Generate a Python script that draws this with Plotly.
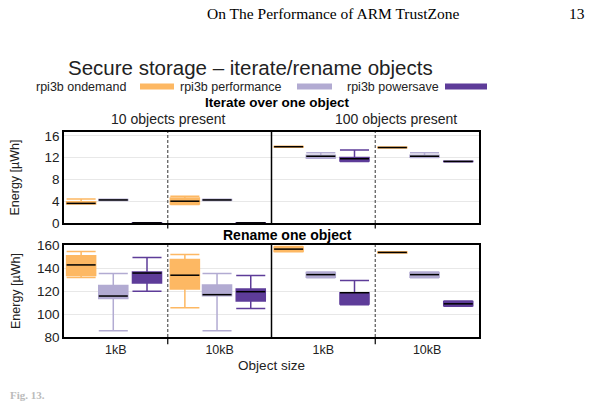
import plotly.graph_objects as go

# ---------------- data ----------------
group_labels = ["1kB", "10kB", "1kB", "10kB"]
series_names = ["rpi3b ondemand", "rpi3b performance", "rpi3b powersave"]

# Iterate over one object (energy, µWh)
it_lo = {
    "rpi3b ondemand":    [3.5, 3.4, 13.9, 13.75],
    "rpi3b performance": [4.15, 4.15, 11.9, 12.0],
    "rpi3b powersave":   [0.02, 0.02, 11.3, 11.25],
}
it_q1 = {
    "rpi3b ondemand":    [3.5, 3.5, 13.95, 13.8],
    "rpi3b performance": [4.18, 4.18, 11.95, 12.05],
    "rpi3b powersave":   [0.02, 0.02, 11.4, 11.27],
}
it_med = {
    "rpi3b ondemand":    [3.6, 4.0, 14.0, 13.85],
    "rpi3b performance": [4.23, 4.23, 12.25, 12.25],
    "rpi3b powersave":   [0.03, 0.03, 11.8, 11.3],
}
it_q3 = {
    "rpi3b ondemand":    [3.9, 4.6, 14.05, 13.9],
    "rpi3b performance": [4.3, 4.3, 12.45, 12.45],
    "rpi3b powersave":   [0.03, 0.03, 12.0, 11.33],
}
it_hi = {
    "rpi3b ondemand":    [4.4, 4.9, 14.1, 13.95],
    "rpi3b performance": [4.35, 4.35, 12.9, 12.9],
    "rpi3b powersave":   [0.04, 0.04, 13.4, 11.35],
}

# Rename one object (energy, µWh)
rn_lo = {
    "rpi3b ondemand":    [132, 105.5, 154.5, 153.3],
    "rpi3b performance": [85.5, 85.5, 131.8, 131.8],
    "rpi3b powersave":   [120, 105, 108.2, 106.8],
}
rn_q1 = {
    "rpi3b ondemand":    [133.8, 122, 154.8, 153.5],
    "rpi3b performance": [113.7, 116, 132.3, 132.3],
    "rpi3b powersave":   [127.1, 111.4, 108.8, 107.3],
}
rn_med = {
    "rpi3b ondemand":    [143, 134, 156.8, 153.9],
    "rpi3b performance": [115.8, 117, 134.5, 134.5],
    "rpi3b powersave":   [135.9, 119.6, 118.7, 109],
}
rn_q3 = {
    "rpi3b ondemand":    [151, 147.8, 158.6, 154.2],
    "rpi3b performance": [125, 125.4, 136.3, 136.3],
    "rpi3b powersave":   [136.8, 122, 118.7, 111],
}
rn_hi = {
    "rpi3b ondemand":    [154.8, 152, 159.1, 154.4],
    "rpi3b performance": [135.5, 135.5, 136.8, 136.8],
    "rpi3b powersave":   [149.5, 133.8, 129.4, 111.4],
}

# ---------------- style ----------------
colors = {"rpi3b ondemand": "#fdb863", "rpi3b performance": "#b2abd2", "rpi3b powersave": "#5e3c99"}
offsets = {"rpi3b ondemand": -0.335, "rpi3b performance": -0.025, "rpi3b powersave": 0.30}
BOXW = 0.28
FONT = "Liberation Sans"

W, H = 601, 404
L, R, T, B = 64, 479, 132, 337  # plot area in px


def px(x):
    return (x - L) / (R - L)


def py(y):
    return (B - y) / (B - T)


fig = go.Figure()

for panel, (lo, q1, med, q3, hi, xa, ya) in enumerate([
    (it_lo, it_q1, it_med, it_q3, it_hi, "x", "y"),
    (rn_lo, rn_q1, rn_med, rn_q3, rn_hi, "x2", "y2"),
]):
    for s in series_names:
        xs = [g + offsets[s] for g in range(len(group_labels))]
        fig.add_trace(go.Box(
            x=xs, q1=q1[s], median=med[s], q3=q3[s],
            lowerfence=lo[s], upperfence=hi[s],
            width=BOXW, whiskerwidth=1,
            fillcolor=colors[s], line=dict(color=colors[s], width=1.5),
            boxpoints=False, showlegend=False, name=s,
            xaxis=xa, yaxis=ya, hoverinfo="skip",
        ))
        mx, my = [], []
        for x0, m in zip(xs, med[s]):
            mx += [x0 - BOXW / 2, x0 + BOXW / 2, None]
            my += [m, m, None]
        fig.add_trace(go.Scatter(
            x=mx, y=my, mode="lines", line=dict(color="black", width=1.5),
            showlegend=False, xaxis=xa, yaxis=ya, hoverinfo="skip",
        ))

top_dom = [py(223), 1.0]
bot_dom = [0.0, py(245)]

axis_common = dict(showline=True, linecolor="black", linewidth=1.5, mirror=True,
                   zeroline=False)
fig.update_layout(
    width=W, height=H,
    margin=dict(l=L, r=W - R, t=T, b=H - B),
    paper_bgcolor="white", plot_bgcolor="white",
    font=dict(family=FONT, color="#222", size=13.5),
    xaxis=dict(domain=[0, 1], range=[-0.5, 3.5], anchor="y", showticklabels=False,
               tickvals=[0, 1, 2, 3], ticks="", showgrid=False, **axis_common),
    yaxis=dict(domain=top_dom, range=[0, 16.7], tickvals=[0, 4, 8, 12, 16],
               showgrid=True, gridcolor="#e8e8e8", ticks="", anchor="x",
               title=dict(text="Energy [µWh]", font=dict(size=12.5), standoff=22),
               **axis_common),
    xaxis2=dict(domain=[0, 1], range=[-0.5, 3.5], anchor="y2",
                tickvals=[0, 1, 2, 3], ticktext=group_labels, ticks="",
                showgrid=False, tickfont=dict(size=12.5),
                title=dict(text="Object size", font=dict(size=13.5), standoff=5),
                **axis_common),
    yaxis2=dict(domain=bot_dom, range=[80, 160.4], tickvals=[80, 100, 120, 140, 160],
                showgrid=True, gridcolor="#e8e8e8", ticks="", anchor="x2",
                title=dict(text="Energy [µWh]", font=dict(size=12.5), standoff=14),
                **axis_common),
)

# dividers between groups
shapes = []
for xa, ya, ext in [("x", "y domain", -0.06), ("x2", "y2 domain", -0.08)]:
    for xv in [0.5, 2.5]:
        shapes.append(dict(type="line", xref=xa, yref=ya, x0=xv, x1=xv, y0=0, y1=1,
                           line=dict(color="#555", width=1.2, dash="3px,2px")))
        shapes.append(dict(type="line", xref=xa, yref=ya, x0=xv, x1=xv, y0=ext, y1=0,
                           line=dict(color="black", width=1.2)))
    shapes.append(dict(type="line", xref=xa, yref=ya, x0=1.5, x1=1.5, y0=0, y1=1,
                       line=dict(color="black", width=1.5)))

# legend (text before swatch)
legend_items = [
    ("rpi3b ondemand", 34, 140, 174),
    ("rpi3b performance", 178, 297, 332),
    ("rpi3b powersave", 345, 445, 487),
]
annotations = []
for name, tx, s0, s1 in legend_items:
    annotations.append(dict(text=name, xref="paper", yref="paper", x=px(tx), y=py(86.5),
                            xanchor="left", yanchor="middle", showarrow=False,
                            font=dict(size=12.5, family=FONT, color="#222")))
    shapes.append(dict(type="rect", xref="paper", yref="paper", x0=px(s0), x1=px(s1),
                       y0=py(89.5), y1=py(83.5), fillcolor=colors[name], line=dict(width=0)))

annotations += [
    dict(text="Secure storage – iterate/rename objects", x=px(250), y=py(68),
         font=dict(size=20.5, family=FONT, color="#222")),
    dict(text="<b>Iterate over one object</b>", x=px(277), y=py(102.5),
         font=dict(size=13.5, family=FONT, color="black")),
    dict(text="10 objects present", x=px(168), y=py(119.5),
         font=dict(size=14, family=FONT, color="#222")),
    dict(text="100 objects present", x=px(396), y=py(119.5),
         font=dict(size=14, family=FONT, color="#222")),
    dict(text="<b>Rename one object</b>", x=px(287), y=py(234.5),
         font=dict(size=14, family=FONT, color="black")),
    dict(text="On The Performance of ARM TrustZone", x=px(205), y=py(14), xanchor="left",
         font=dict(size=15.5, family="Liberation Serif", color="black")),
    dict(text="13", x=px(587), y=py(14), xanchor="right",
         font=dict(size=15.5, family="Liberation Serif", color="black")),
    dict(text="<b>Fig. 13.</b>", x=px(8), y=py(403), xanchor="left", yanchor="bottom",
         font=dict(size=11, family="Liberation Serif", color="#bbb")),
]
for a in annotations[len(legend_items):]:
    a.setdefault("xref", "paper")
    a.setdefault("yref", "paper")
    a.setdefault("showarrow", False)
    a.setdefault("yanchor", "middle")
    a.setdefault("xanchor", "center")

fig.update_layout(shapes=shapes, annotations=annotations)

fig.write_html("out.html")
